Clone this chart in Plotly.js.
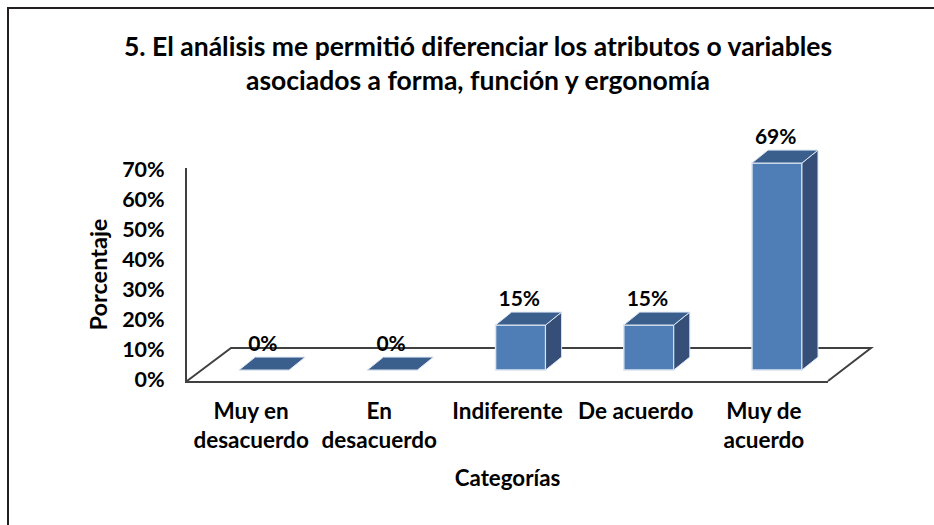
<!DOCTYPE html>
<html>
<head>
<meta charset="utf-8">
<script src="https://cdn.plot.ly/plotly-3.0.1.min.js"></script>
<style>html,body{margin:0;padding:0;background:#fff}</style>
</head>
<body>
<div id="chart" style="width:934px;height:525px"></div>
<script>
const categories = ["Muy en<br>desacuerdo", "En<br>desacuerdo", "Indiferente", "De acuerdo", "Muy de<br>acuerdo"];
const values = [0, 0, 15, 15, 69];
const valueLabels = ["0%", "0%", "15%", "15%", "69%"];
const yTicks = [0, 10, 20, 30, 40, 50, 60, 70];
const yTickLabels = ["0%", "10%", "20%", "30%", "40%", "50%", "60%", "70%"];
const titleText = "5. El análisis me permitió diferenciar los atributos o variables<br>asociados a forma, función y ergonomía";

const positions = categories.map((c, i) => i);
const FONT = "Lato, Carlito, sans-serif";
const barShift = 0.102, barWidth = 0.39, base = 3, dx = 0.125, dy = 4.3, labelGap = 8;
const frontColor = "#4f7db5", topColor = "#3b5f8c", sideColor = "#354f78", edge = "#dbe5f1";

const topX = [], topY = [], sideX = [], sideY = [];
positions.forEach((p, i) => {
  const x0 = p + barShift - barWidth / 2, x1 = x0 + barWidth, y1 = base + values[i];
  topX.push(x0, x1, x1 + dx, x0 + dx, x0, null);
  topY.push(y1, y1, y1 + dy, y1 + dy, y1, null);
  if (values[i] > 0) {
    sideX.push(x1, x1 + dx, x1 + dx, x1, x1, null);
    sideY.push(base, base + dy, y1 + dy, y1, base, null);
  }
});

const traces = [
  {type: "scatter", mode: "markers", x: positions, y: values, yaxis: "y", marker: {opacity: 0, size: 1}, hoverinfo: "skip"},
  {type: "scatter", mode: "lines", x: sideX, y: sideY, yaxis: "y2", fill: "toself", fillcolor: sideColor,
   line: {color: edge, width: 1}, cliponaxis: false, hoverinfo: "skip"},
  {type: "scatter", mode: "lines", x: topX, y: topY, yaxis: "y2", fill: "toself", fillcolor: topColor,
   line: {color: edge, width: 1}, cliponaxis: false, hoverinfo: "skip"},
  {type: "bar", x: positions, y: values, yaxis: "y2", base: base, width: barWidth, offset: barShift - barWidth / 2,
   marker: {color: frontColor, line: {color: edge, width: 1.5}}, cliponaxis: false, hoverinfo: "skip"},
  {type: "scatter", mode: "text", x: positions.map(p => p + barShift - 0.01), y: values.map(v => v + base + labelGap), yaxis: "y2",
   text: valueLabels, textposition: "middle center", cliponaxis: false, hoverinfo: "skip",
   textfont: {family: FONT, size: 21, color: "#000", weight: 700}}
];

const plotW = 641, plotH = 251;
const px = v => (v - 187) / plotW, py = v => (381 - v) / plotH;
const layout = {
  width: 934, height: 525, showlegend: false, barmode: "overlay",
  paper_bgcolor: "#fff", plot_bgcolor: "rgba(0,0,0,0)",
  margin: {l: 187, r: 106, t: 130, b: 144, pad: 0},
  font: {family: FONT, color: "#000"},
  title: {text: titleText, x: 478 / 934, xanchor: "center", y: 0.894, yanchor: "middle",
          font: {family: FONT, size: 26.5, weight: 700, color: "#000"}},
  xaxis: {range: [-0.5, 4.5], tickvals: positions, ticktext: categories, showgrid: false, zeroline: false,
          showline: true, linecolor: "#404040", linewidth: 2, ticks: "outside", ticklen: 9, tickcolor: "rgba(0,0,0,0)",
          tickfont: {family: FONT, size: 22.5, weight: 700, color: "#000"},
          title: {text: "Categorías", standoff: 18, font: {family: FONT, size: 22.3, weight: 700, color: "#000"}}},
  yaxis: {domain: [0, 213 / 251], range: [-2 / 3, 70.33], tickvals: yTicks, ticktext: yTickLabels, showgrid: false, zeroline: false,
          showline: true, linecolor: "#404040", linewidth: 2, ticks: "outside", ticklen: 16, tickcolor: "rgba(0,0,0,0)",
          tickfont: {family: FONT, size: 21.5, weight: 700, color: "#000"},
          title: {text: "Porcentaje", standoff: 8, font: {family: FONT, size: 23.5, weight: 700, color: "#000"}}},
  yaxis2: {domain: [0, 1], anchor: "x", range: [-2 / 3, 83], visible: false},
  shapes: [
    {type: "path", xref: "paper", yref: "paper", layer: "below",
     path: `M ${px(187)} ${py(381)} L ${px(231)} ${py(348)} L ${px(871)} ${py(348)} L ${px(828)} ${py(381)}`,
     line: {color: "#404040", width: 2}},
    {type: "path", xref: "paper", yref: "paper", layer: "below",
     path: `M ${px(8)} ${py(525)} L ${px(8)} ${py(8)} L ${px(934)} ${py(8)}`,
     line: {color: "#231f20", width: 2}}
  ]
};
Plotly.newPlot("chart", traces, layout, {staticPlot: true, displayModeBar: false});
</script>
</body>
</html>
